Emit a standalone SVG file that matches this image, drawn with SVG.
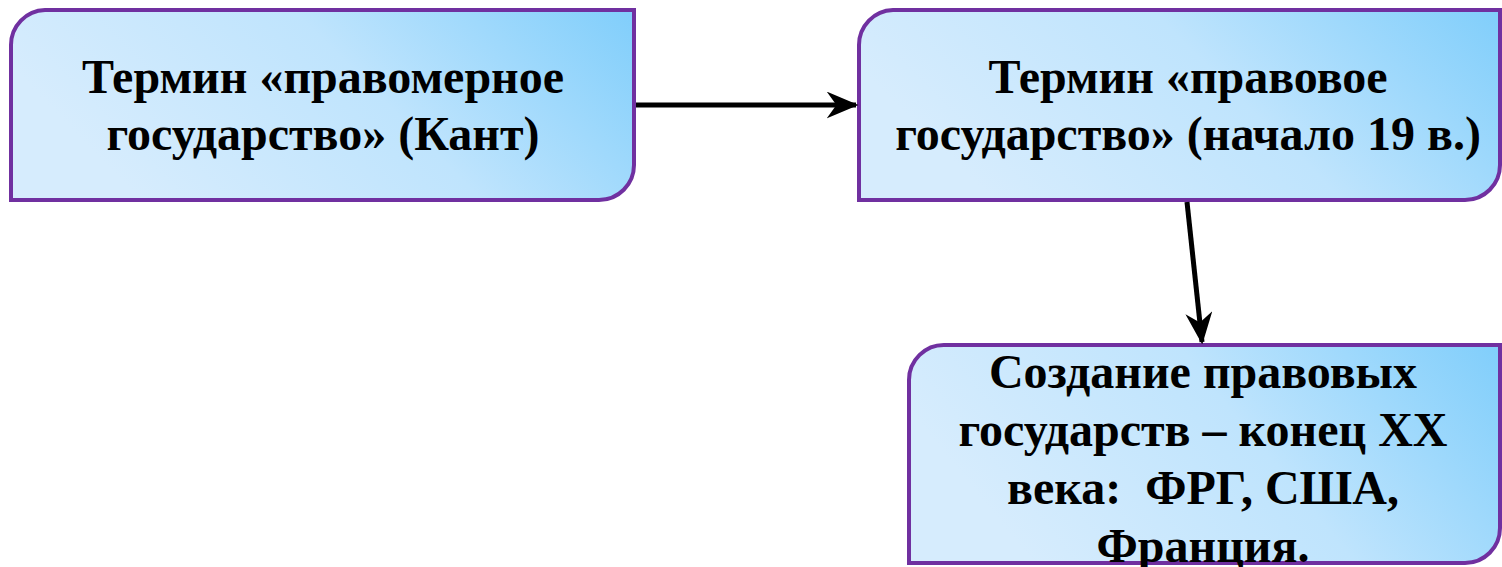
<svg xmlns="http://www.w3.org/2000/svg" width="1502" height="567" viewBox="0 0 1502 567">
<defs>
<linearGradient id="g" x1="0" y1="0.3" x2="1" y2="0">
<stop offset="0" stop-color="#d6ecfd"/>
<stop offset="0.5" stop-color="#bfe4fd"/>
<stop offset="1" stop-color="#80cefb"/>
</linearGradient>
<marker id="ah" viewBox="0 0 13 11" refX="12" refY="5.5" markerWidth="6.4" markerHeight="5.4" orient="auto" markerUnits="strokeWidth">
<path d="M0,0 L13,5.5 L0,11 L4,5.5 Z" fill="#000"/>
</marker>
</defs>
<style>
.box{fill:url(#g);stroke:#7030a0;stroke-width:4}
.t{font-family:"Liberation Serif",serif;font-weight:bold;font-size:48px;fill:#000;text-anchor:middle;white-space:pre}
.c{stroke:#000;stroke-width:5;fill:none;marker-end:url(#ah)}
</style>
<g id="n1">
<path class="box" d="M45,10 H634 V165 A35,35 0 0 1 599,200 H11 V45 A35,35 0 0 1 45,10 Z"/>
<text class="t" x="323" y="93">Термин «правомерное</text>
<text class="t" x="323" y="150">государство» (Кант)</text>
</g>
<g id="n2">
<path class="box" d="M893,10 H1500 V165 A35,35 0 0 1 1465,200 H859 V45 A35,35 0 0 1 893,10 Z"/>
<text class="t" x="1188" y="93">Термин «правовое</text>
<text class="t" x="1188" y="150">государство» (начало 19 в.)</text>
</g>
<g id="n3">
<path class="box" d="M945,345 H1500 V528 A35,35 0 0 1 1465,563 H909 V380 A35,35 0 0 1 945,345 Z"/>
<text class="t" x="1203" y="388">Создание правовых</text>
<text class="t" x="1203" y="446">государств – конец XX</text>
<text class="t" x="1203" y="504" xml:space="preserve">века:  ФРГ, США,</text>
<text class="t" x="1203" y="562">Франция.</text>
</g>
<g id="connectors">
<path class="c" d="M636,105 H856"/>
<path class="c" d="M1187,202 L1202,342"/>
</g>
</svg>
